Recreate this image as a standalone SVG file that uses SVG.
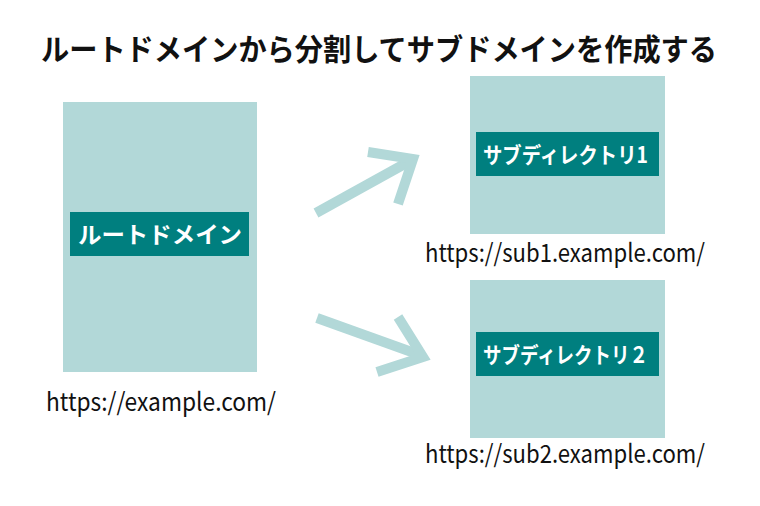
<svg xmlns="http://www.w3.org/2000/svg" width="760" height="506" viewBox="0 0 760 506">
<style>
.box{fill:#b2d8d8}
.lbl{fill:#007f7f}
.lt{font-family:"Noto Sans CJK JP","Noto Sans",sans-serif;font-weight:bold;fill:#ffffff;text-anchor:middle}
.url{font-family:"Noto Sans CJK JP","Noto Sans",sans-serif;font-size:25px;fill:#111111}
.title{font-family:"Noto Sans CJK JP",sans-serif;font-weight:bold;font-size:30px;fill:#111111;text-anchor:middle}
.arr{fill:none;stroke:#b2d8d8;stroke-width:10;stroke-linejoin:miter;stroke-miterlimit:10;stroke-linecap:butt}
</style>
<rect width="760" height="506" fill="#ffffff"/>
<text class="title" x="379" y="60" textLength="676" lengthAdjust="spacingAndGlyphs">ルートドメインから分割してサブドメインを作成する</text>
<g id="root">
<rect class="box" x="63" y="102" width="194" height="270"/>
<rect class="lbl" x="70" y="212" width="179" height="44"/>
<text class="lt" x="160" y="243" font-size="23" textLength="164" lengthAdjust="spacingAndGlyphs">ルートドメイン</text>
<text class="url" x="46" y="411" textLength="230" lengthAdjust="spacingAndGlyphs">https://example.com/</text>
</g>
<g id="sub1">
<rect class="box" x="470" y="76" width="195" height="158"/>
<rect class="lbl" x="476" y="132" width="183" height="44"/>
<text class="lt" x="565.5" y="162.5" font-size="22" textLength="165" lengthAdjust="spacingAndGlyphs">サブディレクトリ1</text>
<text class="url" x="425" y="262" textLength="280" lengthAdjust="spacingAndGlyphs">https://sub1.example.com/</text>
</g>
<g id="sub2">
<rect class="box" x="470" y="280" width="195" height="158"/>
<rect class="lbl" x="476" y="332" width="183" height="44"/>
<text class="lt" x="565.5" y="362.5" font-size="22" textLength="165" lengthAdjust="spacingAndGlyphs">サブディレクトリ２</text>
<text class="url" x="425" y="463" textLength="280" lengthAdjust="spacingAndGlyphs">https://sub2.example.com/</text>
</g>
<g id="connectors">
<line class="arr" x1="316" y1="213" x2="410" y2="161"/>
<polyline class="arr" points="368,152 413,159 398,204"/>
<line class="arr" x1="317" y1="318" x2="420" y2="355"/>
<polyline class="arr" points="398,317 423,357 377,372"/>
</g>
</svg>
